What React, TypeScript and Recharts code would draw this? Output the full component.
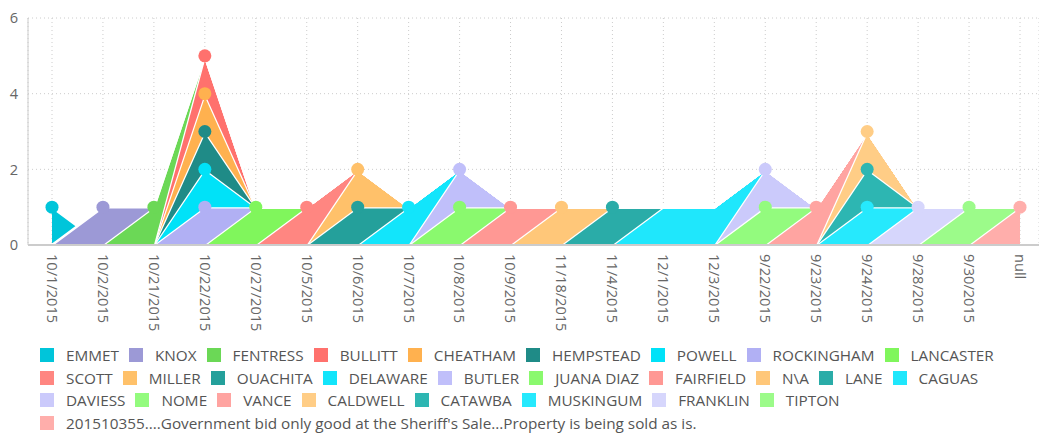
import { AreaChart, Area, XAxis, YAxis, CartesianGrid } from 'recharts';

const CATEGORIES = [
  '10/1/2015', '10/2/2015', '10/21/2015', '10/22/2015', '10/27/2015',
  '10/5/2015', '10/6/2015', '10/7/2015', '10/8/2015', '10/9/2015',
  '11/18/2015', '11/4/2015', '12/1/2015', '12/3/2015', '9/22/2015',
  '9/23/2015', '9/24/2015', '9/28/2015', '9/30/2015', 'null',
];

const SERIES = [
  'EMMET', 'KNOX', 'FENTRESS', 'BULLITT', 'CHEATHAM', 'HEMPSTEAD', 'POWELL',
  'ROCKINGHAM', 'LANCASTER', 'SCOTT', 'MILLER', 'OUACHITA', 'DELAWARE',
  'BUTLER', 'JUANA DIAZ', 'FAIRFIELD', 'N\\A', 'LANE', 'CAGUAS', 'DAVIESS',
  'NOME', 'VANCE', 'CALDWELL', 'CATAWBA', 'MUSKINGUM', 'FRANKLIN', 'TIPTON',
  "201510355....Government bid only good at the Sheriff's Sale...Property is being sold as is.",
];

const COLORS = [
  '#00c5da', '#9c99d6', '#6bd856', '#ff716d', '#ffb14f', '#1f8b87', '#00e2f8',
  '#b1b0f4', '#80f65c', '#ff8681', '#ffc16a', '#24a09b', '#12e5fb',
  '#c0bffa', '#8af96e', '#ff9894', '#ffc779', '#2aaca8', '#1fe7fc', '#cbcafb',
  '#93fb7e', '#ffa4a1', '#ffcd86', '#2db6b2', '#26e9fd', '#d6d6fc', '#9cfb8a',
  '#ffaeab',
];

// one row per series, one column per category
const VALUES: number[][] = [
  [1, 0, 0, 0, 0, 0, 0, 0, 0, 0, 0, 0, 0, 0, 0, 0, 0, 0, 0, 0],
  [0, 1, 0, 0, 0, 0, 0, 0, 0, 0, 0, 0, 0, 0, 0, 0, 0, 0, 0, 0],
  [0, 0, 1, 0, 0, 0, 0, 0, 0, 0, 0, 0, 0, 0, 0, 0, 0, 0, 0, 0],
  [0, 0, 0, 1, 0, 0, 0, 0, 0, 0, 0, 0, 0, 0, 0, 0, 0, 0, 0, 0],
  [0, 0, 0, 1, 0, 0, 0, 0, 0, 0, 0, 0, 0, 0, 0, 0, 0, 0, 0, 0],
  [0, 0, 0, 1, 0, 0, 0, 0, 0, 0, 0, 0, 0, 0, 0, 0, 0, 0, 0, 0],
  [0, 0, 0, 1, 0, 0, 0, 0, 0, 0, 0, 0, 0, 0, 0, 0, 0, 0, 0, 0],
  [0, 0, 0, 1, 0, 0, 0, 0, 0, 0, 0, 0, 0, 0, 0, 0, 0, 0, 0, 0],
  [0, 0, 0, 0, 1, 0, 0, 0, 0, 0, 0, 0, 0, 0, 0, 0, 0, 0, 0, 0],
  [0, 0, 0, 0, 0, 1, 0, 0, 0, 0, 0, 0, 0, 0, 0, 0, 0, 0, 0, 0],
  [0, 0, 0, 0, 0, 0, 1, 0, 0, 0, 0, 0, 0, 0, 0, 0, 0, 0, 0, 0],
  [0, 0, 0, 0, 0, 0, 1, 0, 0, 0, 0, 0, 0, 0, 0, 0, 0, 0, 0, 0],
  [0, 0, 0, 0, 0, 0, 0, 1, 0, 0, 0, 0, 0, 0, 0, 0, 0, 0, 0, 0],
  [0, 0, 0, 0, 0, 0, 0, 0, 1, 0, 0, 0, 0, 0, 0, 0, 0, 0, 0, 0],
  [0, 0, 0, 0, 0, 0, 0, 0, 1, 0, 0, 0, 0, 0, 0, 0, 0, 0, 0, 0],
  [0, 0, 0, 0, 0, 0, 0, 0, 0, 1, 0, 0, 0, 0, 0, 0, 0, 0, 0, 0],
  [0, 0, 0, 0, 0, 0, 0, 0, 0, 0, 1, 0, 0, 0, 0, 0, 0, 0, 0, 0],
  [0, 0, 0, 0, 0, 0, 0, 0, 0, 0, 0, 1, 0, 0, 0, 0, 0, 0, 0, 0],
  [0, 0, 0, 0, 0, 0, 0, 0, 0, 0, 0, 0, 1, 1, 0, 0, 0, 0, 0, 0],
  [0, 0, 0, 0, 0, 0, 0, 0, 0, 0, 0, 0, 0, 0, 1, 0, 0, 0, 0, 0],
  [0, 0, 0, 0, 0, 0, 0, 0, 0, 0, 0, 0, 0, 0, 1, 0, 0, 0, 0, 0],
  [0, 0, 0, 0, 0, 0, 0, 0, 0, 0, 0, 0, 0, 0, 0, 1, 0, 0, 0, 0],
  [0, 0, 0, 0, 0, 0, 0, 0, 0, 0, 0, 0, 0, 0, 0, 0, 1, 0, 0, 0],
  [0, 0, 0, 0, 0, 0, 0, 0, 0, 0, 0, 0, 0, 0, 0, 0, 1, 0, 0, 0],
  [0, 0, 0, 0, 0, 0, 0, 0, 0, 0, 0, 0, 0, 0, 0, 0, 1, 0, 0, 0],
  [0, 0, 0, 0, 0, 0, 0, 0, 0, 0, 0, 0, 0, 0, 0, 0, 0, 1, 0, 0],
  [0, 0, 0, 0, 0, 0, 0, 0, 0, 0, 0, 0, 0, 0, 0, 0, 0, 0, 1, 0],
  [0, 0, 0, 0, 0, 0, 0, 0, 0, 0, 0, 0, 0, 0, 0, 0, 0, 0, 0, 1],
];

const Y_TICKS = [0, 2, 4, 6];
const NO_MARKER = ['CAGUAS'];

const data = CATEGORIES.map((date, i) => {
  const row: Record<string, string | number> = { date };
  SERIES.forEach((name, s) => {
    row[name] = VALUES[s][i];
  });
  return row;
});

const FONT = '"Open Sans", sans-serif';

const makeDot = (name: string, color: string) => (props: any) => {
  const { cx, cy, index, payload } = props;
  const key = `${name}-${index}`;
  if (!payload || !(payload[name] > 0) || NO_MARKER.includes(name)) return <g key={key} />;
  return <circle key={key} cx={cx} cy={cy} r={6.5} fill={color} />;
};

const DateTick = (props: any) => {
  const { x, y, payload } = props;
  return (
    <g transform={`translate(${x},${y})`}>
      <text transform="rotate(90)" x={1} y={0} dy="0.35em" textAnchor="start" fill="#666" fontSize={14.6} fontFamily={FONT}>
        {payload.value}
      </text>
    </g>
  );
};

// the first series sits on its own, the rest stack with the last one at the bottom
const stacked = SERIES.map((name, i) => ({ name, color: COLORS[i] })).slice(1).reverse();

export default function App() {
  return (
    <div style={{ position: 'absolute', left: 0, top: 0, width: 1039, height: 433, background: '#fff' }}>
      <AreaChart width={1039} height={345} data={data} margin={{ top: 18, right: 0, bottom: 0, left: 0 }}>
        <CartesianGrid stroke="#ccc" strokeDasharray="1 3" />
        <Area
          type="linear"
          dataKey={SERIES[0]}
          fill={COLORS[0]}
          fillOpacity={1}
          stroke="#fff"
          strokeWidth={2.5}
          dot={false}
          activeDot={false}
          isAnimationActive={false}
        />
        {stacked.map((s) => (
          <Area
            key={s.name}
            type="linear"
            dataKey={s.name}
            stackId="a"
            fill={s.color}
            fillOpacity={1}
            stroke="#fff"
            strokeWidth={2.5}
            dot={false}
            activeDot={false}
            isAnimationActive={false}
          />
        ))}
        {/* markers drawn last so no fill hides them */}
        <Area
          type="linear"
          dataKey={SERIES[0]}
          fill="none"
          stroke="none"
          dot={makeDot(SERIES[0], COLORS[0])}
          activeDot={false}
          isAnimationActive={false}
        />
        {stacked.map((s) => (
          <Area
            key={`m-${s.name}`}
            type="linear"
            dataKey={s.name}
            stackId="b"
            fill="none"
            stroke="none"
            dot={makeDot(s.name, s.color)}
            activeDot={false}
            isAnimationActive={false}
          />
        ))}
        <XAxis
          dataKey="date"
          interval={0}
          height={100}
          padding={{ left: 24, right: 19 }}
          axisLine={{ stroke: '#ccc', strokeWidth: 2 }}
          tickLine={false}
          tick={<DateTick />}
        />
        <YAxis
          domain={[0, 6]}
          ticks={Y_TICKS}
          width={28}
          axisLine={{ stroke: '#ccc' }}
          tickLine={false}
          tickMargin={4}
          tick={{ fill: '#666', fontSize: 14.6, fontFamily: FONT }}
        />
      </AreaChart>
      <div
        style={{
          position: 'absolute',
          top: 344,
          left: 40,
          width: 999,
          display: 'flex',
          flexWrap: 'wrap',
          fontFamily: FONT,
          fontSize: 15.3,
          color: '#555',
          lineHeight: '22.5px',
        }}
      >
        {SERIES.map((name, i) => (
          <span key={name} style={{ display: 'inline-flex', alignItems: 'center', marginRight: 10, whiteSpace: 'nowrap' }}>
            <span style={{ width: 14, height: 14, background: COLORS[i], marginRight: 12, display: 'inline-block' }} />
            {name}
          </span>
        ))}
      </div>
    </div>
  );
}
